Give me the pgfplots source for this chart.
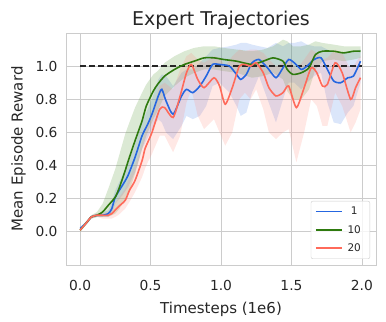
\documentclass[border=0pt]{standalone}
\usepackage{fontspec}
\setmainfont{DejaVu Sans}
\usepackage{pgfplots}
\usepackage{pgfplotstable}
\pgfplotsset{compat=1.18}
\usepgfplotslibrary{fillbetween}
\definecolor{gridgray}{HTML}{CCCCCC}
\definecolor{cblue}{HTML}{2566E0}
\definecolor{cgreen}{HTML}{2E7A0E}
\definecolor{cred}{HTML}{FF6A5A}
\definecolor{fblue}{HTML}{5A8BEA}
\definecolor{fgreen}{HTML}{5C9A3C}
\definecolor{fred}{HTML}{FF8A7E}

% t = timesteps (1e6), m = mean, lo/hi = band
\pgfplotstableread{
t m lo hi
0.00 0.02 0.01 0.03
0.04 0.05 0.04 0.06
0.08 0.09 0.08 0.10
0.12 0.10 0.09 0.11
0.16 0.10 0.09 0.12
0.20 0.11 0.09 0.13
0.225 0.14 0.11 0.18
0.25 0.21 0.17 0.25
0.30 0.28 0.22 0.34
0.34 0.34 0.27 0.41
0.39 0.45 0.36 0.53
0.44 0.58 0.50 0.66
0.48 0.65 0.57 0.74
0.51 0.71 0.62 0.80
0.555 0.82 0.68 0.92
0.58 0.86 0.66 0.95
0.61 0.79 0.60 0.94
0.66 0.71 0.56 0.88
0.72 0.82 0.64 0.96
0.755 0.86 0.70 0.98
0.80 0.84 0.68 0.98
0.85 0.88 0.70 1.02
0.895 0.94 0.76 1.06
0.94 1.01 0.88 1.10
0.99 1.01 0.90 1.11
1.06 1.00 0.84 1.12
1.11 0.95 0.76 1.13
1.14 0.92 0.70 1.14
1.18 0.95 0.72 1.14
1.22 1.02 0.84 1.13
1.27 1.04 0.94 1.12
1.33 0.99 0.80 1.11
1.39 0.93 0.66 1.14
1.44 0.99 0.80 1.12
1.48 1.04 0.90 1.14
1.52 1.02 0.90 1.14
1.57 0.98 0.86 1.15
1.61 1.00 0.90 1.13
1.66 1.04 0.94 1.12
1.71 1.05 0.96 1.12
1.755 0.98 0.78 1.10
1.80 0.91 0.66 1.08
1.85 0.90 0.65 1.08
1.90 0.93 0.72 1.09
1.94 0.94 0.76 1.09
1.99 1.03 0.90 1.10
}\blueone

\pgfplotstableread{
t m lo hi
0.00 0.01 0.00 0.02
0.04 0.05 0.04 0.06
0.08 0.09 0.08 0.10
0.12 0.10 0.09 0.12
0.16 0.12 0.09 0.17
0.20 0.16 0.09 0.26
0.25 0.21 0.11 0.38
0.28 0.27 0.14 0.47
0.32 0.37 0.20 0.59
0.35 0.45 0.25 0.66
0.39 0.55 0.35 0.75
0.44 0.67 0.50 0.84
0.47 0.76 0.58 0.89
0.52 0.85 0.68 0.95
0.55 0.89 0.73 0.97
0.60 0.94 0.82 1.02
0.67 0.98 0.88 1.06
0.74 1.01 0.93 1.09
0.81 1.03 0.96 1.11
0.88 1.05 0.98 1.12
0.95 1.05 0.98 1.12
1.02 1.04 0.97 1.11
1.11 1.03 0.96 1.10
1.22 1.01 0.93 1.09
1.30 1.03 0.94 1.10
1.37 1.05 0.96 1.12
1.44 1.03 0.92 1.16
1.47 0.98 0.85 1.15
1.51 0.95 0.80 1.12
1.57 0.96 0.80 1.12
1.625 0.99 0.86 1.13
1.67 1.07 0.98 1.15
1.72 1.09 1.03 1.14
1.80 1.09 1.04 1.13
1.87 1.08 1.03 1.12
1.94 1.09 1.04 1.12
1.99 1.09 1.05 1.12
}\greenten

\pgfplotstableread{
t m lo hi
0.00 0.01 0.00 0.02
0.04 0.05 0.04 0.06
0.08 0.09 0.08 0.10
0.12 0.10 0.09 0.11
0.16 0.10 0.08 0.11
0.20 0.10 0.08 0.12
0.225 0.11 0.08 0.14
0.27 0.15 0.10 0.20
0.32 0.19 0.14 0.26
0.35 0.25 0.18 0.33
0.39 0.31 0.24 0.40
0.44 0.43 0.33 0.54
0.46 0.50 0.38 0.60
0.48 0.54 0.42 0.66
0.51 0.60 0.47 0.72
0.565 0.74 0.58 0.88
0.60 0.75 0.58 0.90
0.66 0.69 0.48 0.86
0.71 0.82 0.58 0.98
0.755 0.96 0.78 1.06
0.79 1.01 0.86 1.08
0.835 0.92 0.70 1.04
0.88 0.87 0.62 1.02
0.95 0.93 0.68 1.06
0.99 0.88 0.60 1.05
1.03 0.77 0.52 1.00
1.08 0.87 0.60 1.06
1.13 1.00 0.80 1.10
1.17 1.01 0.84 1.09
1.21 1.00 0.80 1.10
1.25 1.02 0.86 1.10
1.30 0.96 0.74 1.08
1.34 0.87 0.60 1.04
1.39 0.82 0.56 1.00
1.44 0.84 0.60 1.02
1.48 0.88 0.62 1.05
1.535 0.75 0.42 0.98
1.59 0.87 0.60 1.04
1.64 0.99 0.80 1.10
1.68 0.96 0.76 1.08
1.72 0.88 0.64 1.04
1.755 0.89 0.64 1.05
1.81 1.02 0.84 1.10
1.86 0.96 0.76 1.08
1.92 0.80 0.60 0.98
1.955 0.87 0.66 1.02
1.99 0.93 0.74 1.06
}\redtwenty

\begin{document}
\begin{tikzpicture}
\begin{axis}[
  name=ax,
  scale only axis,
  width=310bp, height=232bp,
  xmin=-0.1, xmax=2.1,
  ymin=-0.2, ymax=1.2,
  xtick={0,0.5,1,1.5,2},
  ytick={0,0.2,0.4,0.6,0.8,1.0},
  /pgf/number format/.cd, fixed, fixed zerofill, precision=1, assume math mode=true,
  /pgfplots/.cd,
  grid=major,
  major grid style={gridgray, line width=0.8pt},
  axis line style={gridgray, line width=1pt},
  major tick length=0pt,
  tick label style={font=\fontsize{13.8bp}{16bp}\selectfont, text=black!85},
  xticklabel style={yshift=-12bp},
  yticklabel style={xshift=-5bp},
  label style={font=\fontsize{15bp}{18bp}\selectfont, text=black!85},
  xlabel={Timesteps (1e6)},
  ylabel={Mean Episode Reward},
  xlabel style={yshift=-4bp},
  ylabel style={yshift=3bp},
  title={Expert Trajectories},
  title style={font=\fontsize{19bp}{22bp}\selectfont, text=black!85, yshift=-6bp},
  legend style={at={(0.981,0.026)}, anchor=south east, font=\fontsize{10.5bp}{12bp}\selectfont,
    draw=gridgray, rounded corners=2pt, fill=white, fill opacity=0.8, text opacity=1,
    text=black!85, row sep=5bp, inner xsep=4bp, inner ysep=4bp,
    nodes={inner xsep=5bp}},
]
\addlegendimage{legend image code/.code={\draw[draw=cblue, line width=1.6pt] (0bp,0bp) -- (26bp,0bp);}}
\addlegendentry{1}
\addlegendimage{legend image code/.code={\draw[draw=cgreen, line width=1.6pt] (0bp,0bp) -- (26bp,0bp);}}
\addlegendentry{10}
\addlegendimage{legend image code/.code={\draw[draw=cred, line width=1.6pt] (0bp,0bp) -- (26bp,0bp);}}
\addlegendentry{20}
\addplot[name path=bu, draw=none, forget plot] table[x=t, y=hi] {\blueone};
\addplot[name path=bl, draw=none, forget plot] table[x=t, y=lo] {\blueone};
\addplot[fill=fblue, fill opacity=0.22, draw=none, forget plot] fill between[of=bu and bl];
\addplot[name path=gu, draw=none, forget plot] table[x=t, y=hi] {\greenten};
\addplot[name path=gl, draw=none, forget plot] table[x=t, y=lo] {\greenten};
\addplot[fill=fgreen, fill opacity=0.22, draw=none, forget plot] fill between[of=gu and gl];
\addplot[name path=ru, draw=none, forget plot] table[x=t, y=hi] {\redtwenty};
\addplot[name path=rl, draw=none, forget plot] table[x=t, y=lo] {\redtwenty};
\addplot[fill=fred, fill opacity=0.2, draw=none, forget plot] fill between[of=ru and rl];
\addplot[black!85, dash pattern=on 6bp off 3bp, line width=1.5pt, forget plot] coordinates {(0,1) (2,1)};
\addplot[cblue, line width=1.6pt, smooth, tension=0.4, forget plot] table[x=t, y=m] {\blueone};
\addplot[cgreen, line width=1.6pt, smooth, tension=0.4, forget plot] table[x=t, y=m] {\greenten};
\addplot[cred, line width=1.6pt, smooth, tension=0.4, forget plot] table[x=t, y=m] {\redtwenty};
\end{axis}
\pgfresetboundingbox
\path[use as bounding box] ([shift={(-66bp,-57bp)}]ax.south west) rectangle ([shift={(10bp,33bp)}]ax.north east);
\end{tikzpicture}
\end{document}
